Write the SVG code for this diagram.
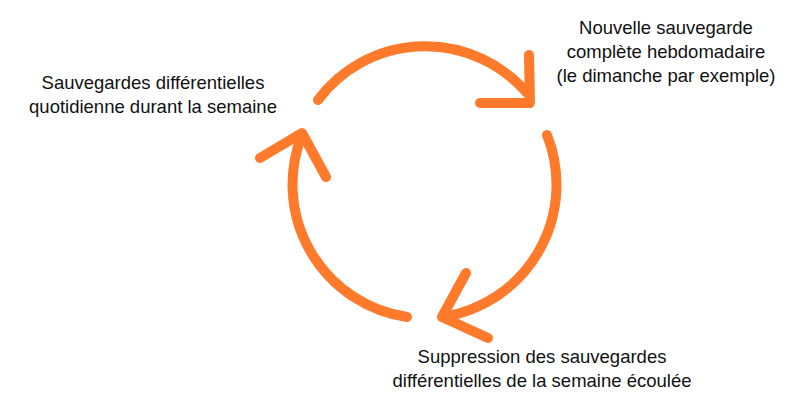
<svg xmlns="http://www.w3.org/2000/svg" width="800" height="404" viewBox="0 0 800 404">
<style>
.a{fill:none;stroke:#FF7A2B;stroke-width:10;stroke-linecap:round;stroke-linejoin:round}
text{font-family:"Liberation Sans",Arial,sans-serif;font-size:18.5px;fill:#111;text-anchor:middle}
</style>
<rect width="800" height="404" fill="#fff"/>
<g id="n1"><text x="153" y="89">Sauvegardes différentielles</text><text x="153" y="113">quotidienne durant la semaine</text></g>
<g id="n2"><text x="666" y="34">Nouvelle sauvegarde</text><text x="666" y="58">complète hebdomadaire</text><text x="666" y="82">(le dimanche par exemple)</text></g>
<g id="n3"><text x="542" y="363">Suppression des sauvegardes</text><text x="542" y="387">différentielles de la semaine écoulée</text></g>
<g id="connectors">
<path class="a" d="M318,100 A134,134 0 0 1 527,93"/>
<path class="a" d="M529,55 L530,103 L480,103"/>
<path class="a" d="M547,135 A134,134 0 0 1 443,317"/>
<path class="a" d="M466,273 L442,317 L488,338"/>
<path class="a" d="M407,317 A134,134 0 0 1 302,135"/>
<path class="a" d="M260,158 L302,133 L326,177"/>
</g>
</svg>
